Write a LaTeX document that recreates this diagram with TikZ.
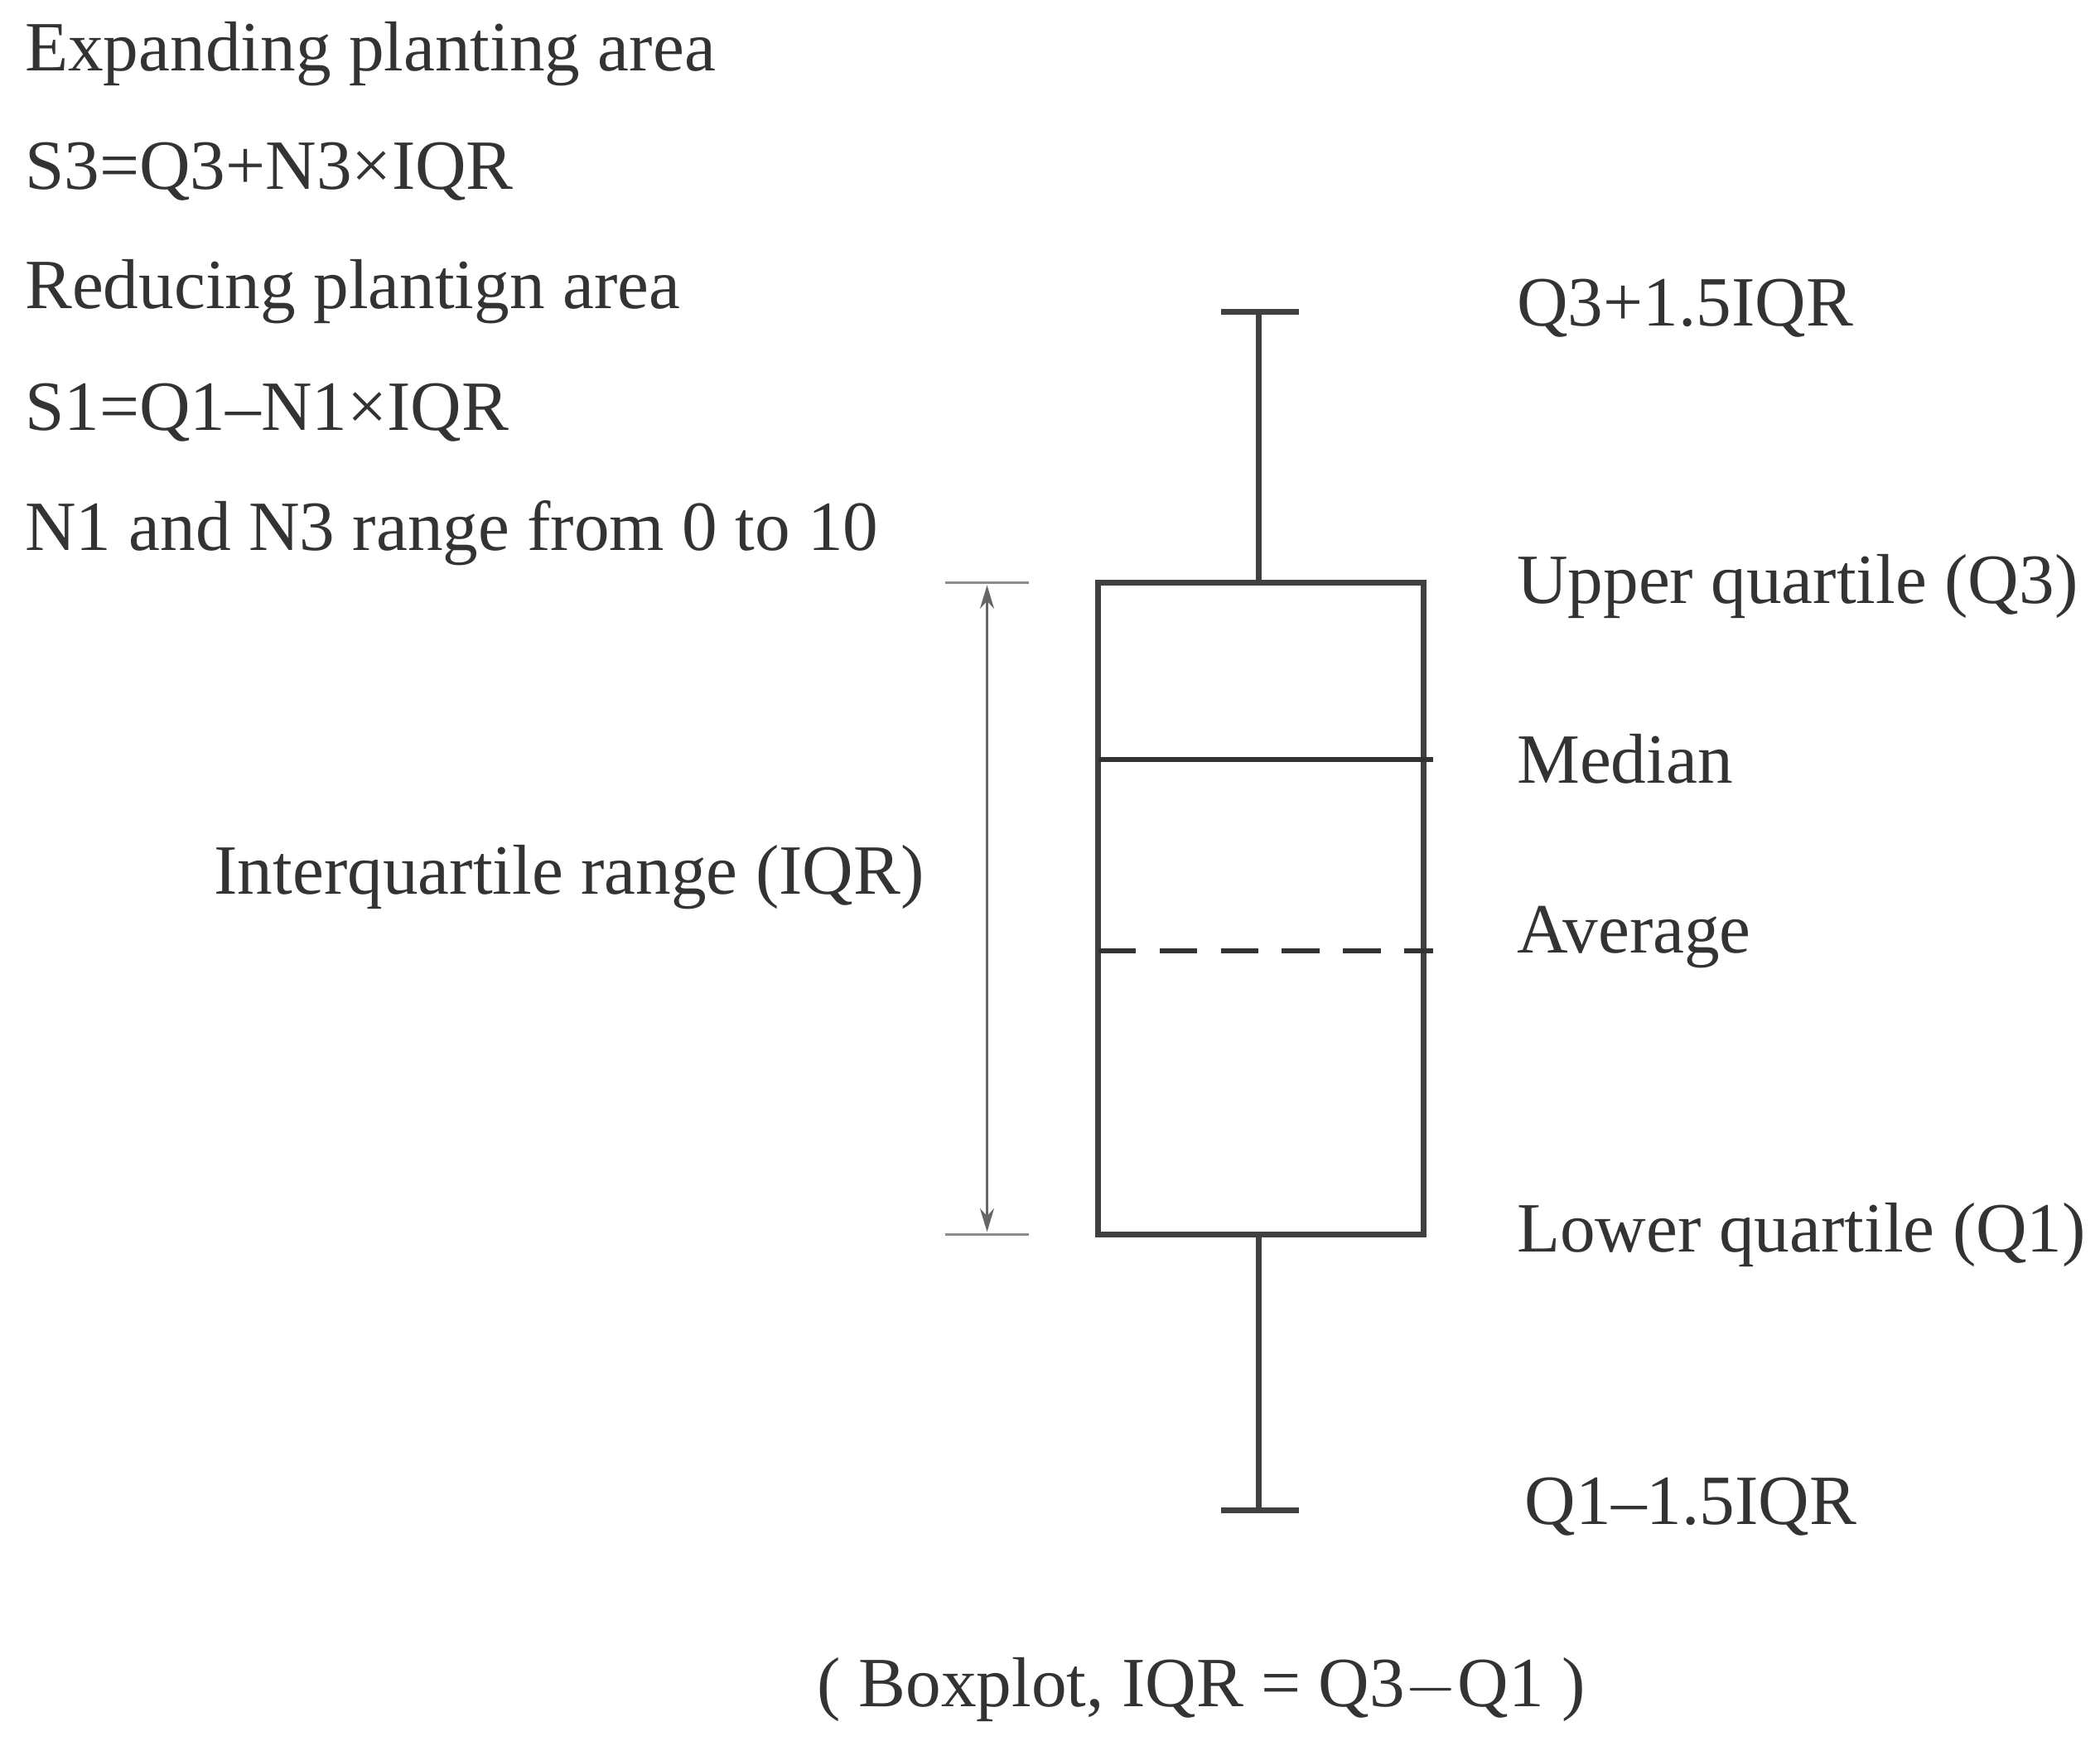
\documentclass[tikz,border=0pt]{standalone}
\usepackage{fontspec}
\setmainfont{Liberation Serif}
\usetikzlibrary{arrows.meta}
\begin{document}
\begin{tikzpicture}[x=0.01cm,y=-0.01cm,
  lbl/.style={anchor=west,inner sep=0pt,font=\fontsize{15}{17}\selectfont,text=black!80},
  thick line/.style={line width=1.3pt,draw=black!75}]
\useasboundingbox (0,0) rectangle (1568,1300);
\node[lbl] (t1) at (18,40) {Expanding planting area};
\node[lbl] (t2) at (18,128) {S3=Q3+N3×IQR};
\node[lbl] (t3) at (18,218) {Reducing plantign area};
\node[lbl] (t4) at (18,308) {S1=Q1–N1×IQR};
\node[lbl] (t5) at (18,398) {N1 and N3 range from 0 to 10};
% box
\draw[thick line] (820,435) rectangle (1063,922);
\draw[thick line] (940,233) -- (940,435);
\draw[thick line] (912,233) -- (970,233);
\draw[thick line] (940,922) -- (940,1128);
\draw[thick line] (912,1128) -- (970,1128);
\draw[line width=1.1pt,draw=black!80] (820,567) -- (1070,567);
\draw[line width=1.1pt,draw=black!80,dash pattern=on 8pt off 5pt] (820,710) -- (1070,710);
% bracket
\draw[black!45,line width=0.5pt] (706,435) -- (768,435);
\draw[black!45,line width=0.5pt] (706,922) -- (768,922);
\coordinate (bt) at (737,437);
\coordinate (bb) at (737,920);
\draw[black!60,line width=0.5pt,{Stealth[length=5pt,width=3pt]}-{Stealth[length=5pt,width=3pt]}] (bt) -- (bb);
\node[lbl,anchor=center] (iqr) at (425,655) {Interquartile range (IQR)};
% right labels
\node[lbl] (r1) at (1132,230) {Q3+1.5IQR};
\node[lbl] (r2) at (1132,438) {Upper quartile (Q3)};
\node[lbl] (r3) at (1132,567) {Median};
\node[lbl] (r4) at (1132,700) {Average};
\node[lbl] (r5) at (1132,922) {Lower quartile (Q1)};
\node[lbl] (r6) at (1138,1125) {Q1–1.5IQR};
\node[lbl,anchor=center] (cap) at (897,1262) {( Boxplot, IQR = Q3$-$Q1 )};
\end{tikzpicture}
\end{document}
